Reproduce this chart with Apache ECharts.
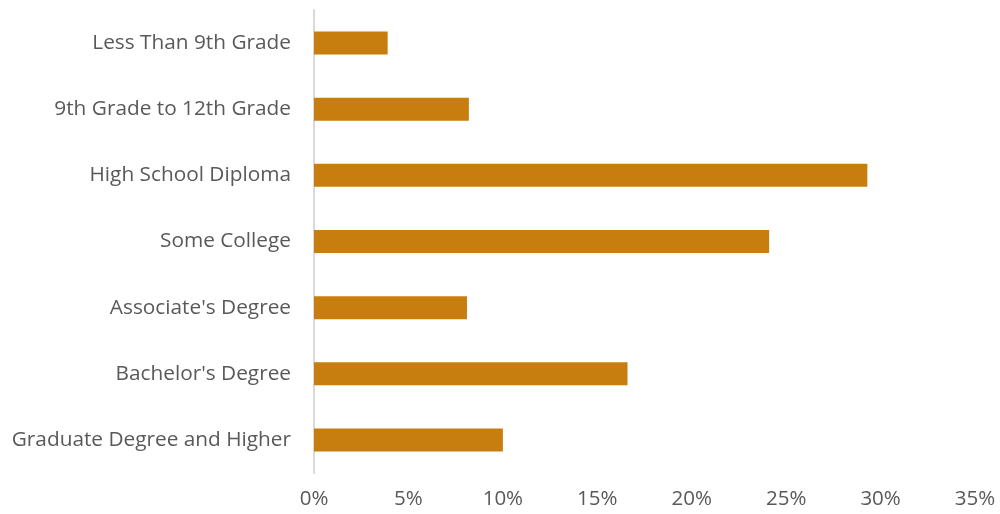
<!DOCTYPE html>
<html>
<head>
<meta charset="utf-8">
<script src="https://cdn.jsdelivr.net/npm/echarts@6/dist/echarts.min.js"></script>
<style>html,body{margin:0;padding:0;background:#fff;}#chart{width:1000px;height:514px;}</style>
</head>
<body>
<div id="chart"></div>
<script>
const categories = ["Less Than 9th Grade", "9th Grade to 12th Grade", "High School Diploma", "Some College", "Associate's Degree", "Bachelor's Degree", "Graduate Degree and Higher"];
const values = [3.9, 8.2, 29.3, 24.1, 8.1, 16.6, 10.0];
const xTicks = [0, 5, 10, 15, 20, 25, 30, 35];

const chart = echarts.init(document.getElementById('chart'));
chart.setOption({
  animation: false,
  grid: { left: 314, right: 25, top: 10, bottom: 41, containLabel: false },
  xAxis: {
    type: 'value', min: xTicks[0], max: xTicks[xTicks.length - 1], interval: 5,
    axisLine: { show: false }, axisTick: { show: false }, splitLine: { show: false },
    axisLabel: { formatter: v => v + '%', color: '#595959', fontSize: 20.5, fontFamily: 'Open Sans', margin: 16 }
  },
  yAxis: {
    type: 'category', data: categories, inverse: true,
    axisLine: { show: true, lineStyle: { color: '#d9d9d9', width: 2 } },
    axisTick: { show: false },
    axisLabel: { color: '#595959', fontSize: 20.8, fontFamily: 'Open Sans', margin: 23 }
  },
  series: [{
    type: 'bar', data: values, barWidth: 23,
    itemStyle: { color: '#C87D0F' }
  }]
});
</script>
</body>
</html>
